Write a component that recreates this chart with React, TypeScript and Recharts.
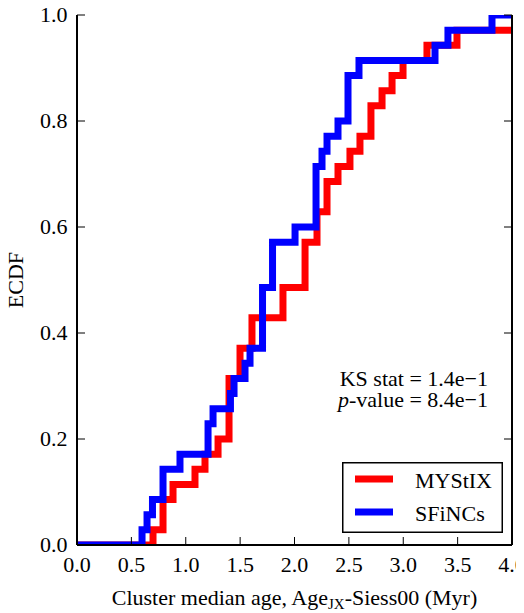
import React from "react";
import { LineChart, Line, XAxis, YAxis, Legend } from "recharts";

// ECDF step positions (cluster median age, Myr) and cumulative fractions
const mystixStepX = [0, 0.699, 0.791, 0.883, 1.085, 1.177, 1.297, 1.398, 1.499, 1.609, 1.894, 2.097, 2.207, 2.299, 2.4, 2.51, 2.602, 2.703, 2.805, 2.897, 2.998, 3.218, 3.494, 4.0];
const mystixStepY = [0, 0.029, 0.086, 0.114, 0.143, 0.171, 0.2, 0.314, 0.371, 0.429, 0.486, 0.571, 0.629, 0.686, 0.714, 0.743, 0.771, 0.829, 0.857, 0.886, 0.914, 0.943, 0.971, 0.971];

const sfincsStepX = [0, 0.598, 0.644, 0.694, 0.791, 0.947, 1.205, 1.251, 1.411, 1.444, 1.545, 1.591, 1.706, 1.798, 2.005, 2.198, 2.253, 2.299, 2.4, 2.492, 2.593, 3.292, 3.411, 3.816, 4.0];
const sfincsStepY = [0, 0.029, 0.057, 0.086, 0.143, 0.171, 0.229, 0.257, 0.286, 0.314, 0.343, 0.371, 0.486, 0.571, 0.6, 0.714, 0.743, 0.771, 0.8, 0.886, 0.914, 0.943, 0.971, 1.0, 1.0];

const xTicks = [0, 0.5, 1, 1.5, 2, 2.5, 3, 3.5, 4];
const yTicks = [0, 0.2, 0.4, 0.6, 0.8, 1.0];

const seriesNames = ["MYStIX", "SFiNCs"];
const ksLines = ["KS stat = 1.4e\u22121", "-value = 8.4e\u22121"];

const FONT = "'Liberation Serif', 'Times New Roman', Times, serif";

const mystixData = mystixStepX.map((x, i) => ({ x, y: mystixStepY[i] }));
const sfincsData = sfincsStepX.map((x, i) => ({ x, y: sfincsStepY[i] }));

const BottomTick = (props: any) => {
  const { x, y, payload } = props;
  return (
    <g>
      <line x1={x} x2={x} y1={y} y2={y - 8} stroke="#000" strokeWidth={1} />
      <text x={x} y={y + 27} textAnchor="middle" fontSize={22} fontFamily={FONT} fill="#000">
        {Number(payload.value).toFixed(1)}
      </text>
    </g>
  );
};
const TopTick = (props: any) => {
  const { x, y } = props;
  return <line x1={x} x2={x} y1={y} y2={y + 8} stroke="#000" strokeWidth={1} />;
};
const LeftTick = (props: any) => {
  const { x, y, payload } = props;
  return (
    <g>
      <line x1={x} x2={x + 8} y1={y} y2={y} stroke="#000" strokeWidth={1} />
      <text x={x - 9.5} y={y + 7} textAnchor="end" fontSize={22} fontFamily={FONT} fill="#000">
        {Number(payload.value).toFixed(1)}
      </text>
    </g>
  );
};
const RightTick = (props: any) => {
  const { x, y } = props;
  return <line x1={x} x2={x - 8} y1={y} y2={y} stroke="#000" strokeWidth={1} />;
};

const LegendBox = (props: any) => {
  const payload = props.payload || [];
  return (
    <svg width={161} height={71} style={{ display: "block" }}>
      <rect x={0.75} y={0.75} width={159.5} height={69.5} fill="#fff" stroke="#000" strokeWidth={1.5} />
      {payload.map((p: any, i: number) => (
        <g key={i}>
          <line x1={13} x2={51} y1={17 + i * 33} y2={17 + i * 33} stroke={p.color} strokeWidth={7} />
          <text x={73} y={26 + i * 32.5} fontSize={22} fontFamily={FONT} fill="#000">
            {p.value}
          </text>
        </g>
      ))}
    </svg>
  );
};

export default function App() {
  return (
    <div style={{ position: "relative", width: 516, height: 605 }}>
      <LineChart width={516} height={605} margin={{ top: 7, right: 0, bottom: 0, left: 0 }}>
        <XAxis
          xAxisId="b"
          dataKey="x"
          type="number"
          domain={[0, 4]}
          ticks={xTicks}
          interval={0}
          allowDataOverflow
          height={68}
          tickSize={0}
          tickMargin={0}
          tickLine={false}
          tick={<BottomTick />}
          axisLine={{ stroke: "#000", strokeWidth: 2 }}
        />
        <XAxis
          xAxisId="t"
          orientation="top"
          dataKey="x"
          type="number"
          domain={[0, 4]}
          ticks={xTicks}
          interval={0}
          allowDataOverflow
          height={0}
          tickSize={0}
          tickMargin={0}
          tickLine={false}
          tick={<TopTick />}
          axisLine={{ stroke: "#000", strokeWidth: 2 }}
        />
        <YAxis
          yAxisId="l"
          type="number"
          domain={[0, 1]}
          ticks={yTicks}
          interval={0}
          allowDataOverflow
          width={69}
          tickSize={0}
          tickMargin={0}
          tickLine={false}
          tick={<LeftTick />}
          axisLine={{ stroke: "#000", strokeWidth: 2 }}
        />
        <YAxis
          yAxisId="r"
          orientation="right"
          type="number"
          domain={[0, 1]}
          ticks={yTicks}
          interval={0}
          allowDataOverflow
          width={12}
          tickSize={0}
          tickMargin={0}
          tickLine={false}
          tick={<RightTick />}
          axisLine={{ stroke: "#000", strokeWidth: 2 }}
        />
        <Line
          xAxisId="b"
          yAxisId="l"
          data={mystixData}
          dataKey="y"
          name={seriesNames[0]}
          type="stepAfter"
          stroke="#ff0000"
          strokeWidth={7}
          strokeLinejoin="miter"
          dot={false}
          activeDot={false}
          isAnimationActive={false}
        />
        <Line
          xAxisId="b"
          yAxisId="l"
          data={sfincsData}
          dataKey="y"
          name={seriesNames[1]}
          type="stepAfter"
          stroke="#0000ff"
          strokeWidth={7}
          strokeLinejoin="miter"
          dot={false}
          activeDot={false}
          isAnimationActive={false}
        />
        <Legend
          layout="vertical"
          align="center"
          verticalAlign="middle"
          wrapperStyle={{ left: 334, top: 454, width: 161, height: 71 }}
          content={<LegendBox />}
        />
        <text x={480} y={378} textAnchor="end" fontSize={22} fontFamily={FONT} fill="#000">
          {ksLines[0]}
        </text>
        <text x={480} y={399} textAnchor="end" fontSize={22} fontFamily={FONT} fill="#000">
          <tspan fontStyle="italic">p</tspan>
          {ksLines[1]}
        </text>
        <text
          x={15}
          y={272}
          transform="rotate(-90 15 272)"
          textAnchor="middle"
          fontSize={22}
          fontFamily={FONT}
          fill="#000"
        >
          ECDF
        </text>
        <text x={286.5} y={597} textAnchor="middle" fontSize={22} fontFamily={FONT} fill="#000">
          Cluster median age, Age
          <tspan fontSize={15} dy={4}>JX</tspan>
          <tspan dy={-4}>-Siess00 (Myr)</tspan>
        </text>
      </LineChart>
    </div>
  );
}
